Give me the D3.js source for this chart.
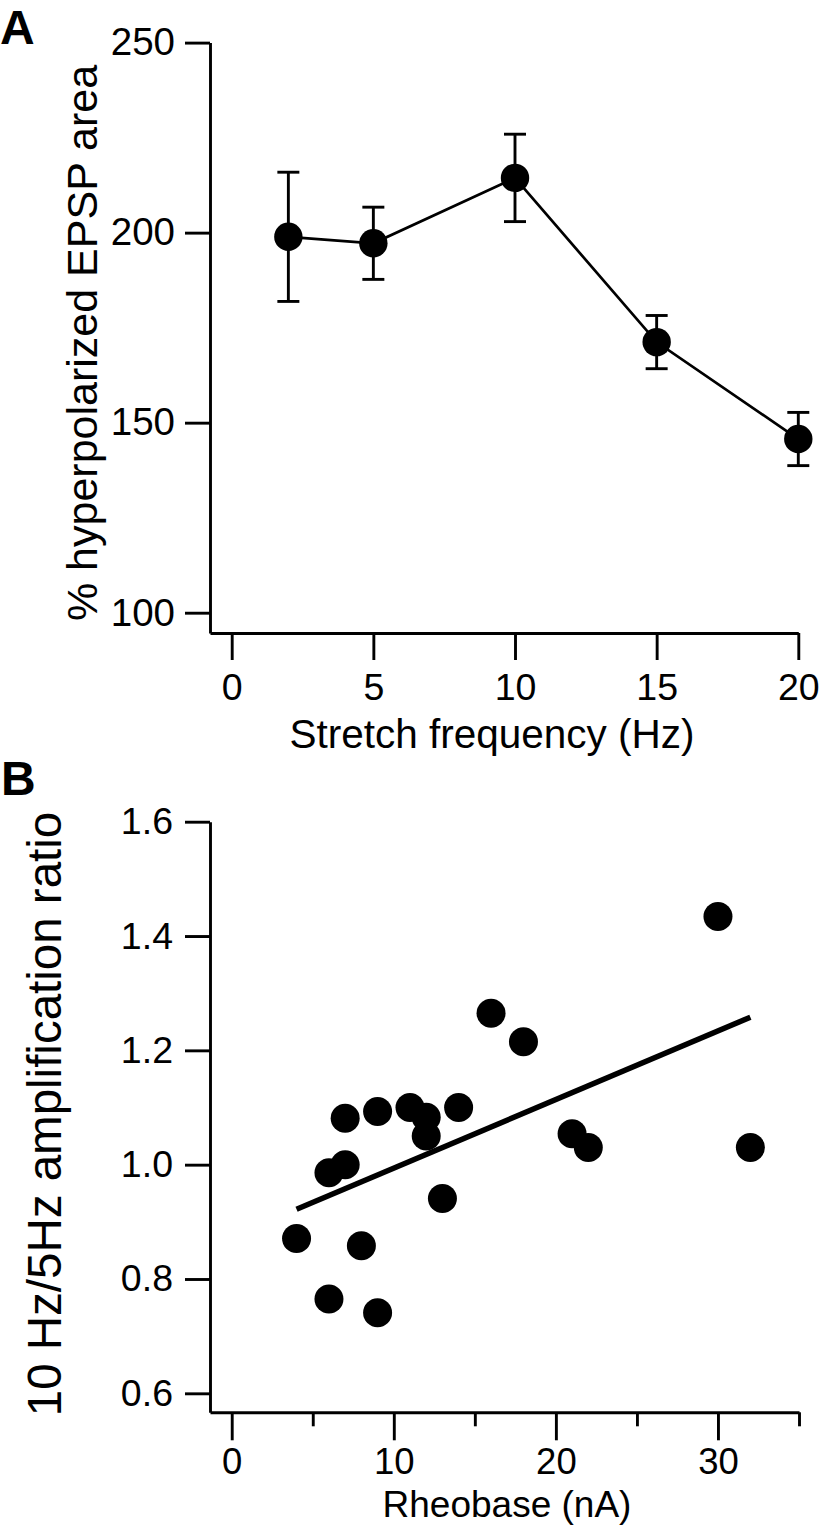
<!DOCTYPE html>
<html>
<head>
<meta charset="utf-8">
<script src="https://cdn.jsdelivr.net/npm/d3@7"></script>
<style>
  html, body { margin: 0; padding: 0; background: #fff; }
  svg { display: block; }
  text { font-family: "Liberation Sans", Arial, Helvetica, sans-serif; fill: #000; }
</style>
</head>
<body>
<svg id="chart" width="819" height="1525"></svg>
<script>
// ---------- Panel A data ----------
const freqHz = [2, 5, 10, 15, 20];
const epspArea = [198.9, 197.2, 214.4, 171.2, 145.7];
const epspErr = [17, 9.5, 11.5, 7, 7];
const aXTicks = [0, 5, 10, 15, 20];
const aYTicks = [100, 150, 200, 250];

// ---------- Panel B data ----------
const rheobase = [4, 6, 6, 7, 7, 8, 9, 9, 11, 12, 12, 13, 14, 16, 18, 21, 22, 30, 32];
const ampRatio = [0.871, 0.986, 0.765, 1.0, 1.081, 0.858, 1.093, 0.741, 1.100, 1.083, 1.050, 0.941, 1.100, 1.265, 1.215, 1.054, 1.030, 1.434, 1.030];
const fitX = [4, 32];
const fitY = [0.922, 1.258];
const bXMajor = [0, 10, 20, 30];
const bXMinor = [5, 15, 25, 35];
const bYTicks = [0.6, 0.8, 1.0, 1.2, 1.4, 1.6];

const svg = d3.select("#chart");
const SW = 2.9;

function styleAxis(g, fs) {
  g.selectAll("path.domain").attr("stroke", "#000").attr("stroke-width", SW);
  g.selectAll(".tick line").attr("stroke", "#000").attr("stroke-width", SW);
  g.selectAll(".tick text").attr("font-size", fs).attr("fill", "#000")
    .attr("font-family", '"Liberation Sans", Arial, sans-serif');
}

// ================= Panel A =================
const xA = d3.scaleLinear().domain([-0.766, 20]).range([210, 798.3]);
const yA = d3.scaleLinear().domain([94.66, 250]).range([633, 42.6]);

const gA = svg.append("g");
gA.append("g").attr("transform", "translate(0,633)")
  .call(d3.axisBottom(xA).tickValues(aXTicks).tickSize(27).tickSizeOuter(0).tickPadding(13))
  .call(g => styleAxis(g, 37.5));
gA.append("g").attr("transform", "translate(210,0)")
  .call(d3.axisLeft(yA).tickValues(aYTicks).tickSize(25).tickSizeOuter(0).tickPadding(10))
  .call(g => styleAxis(g, 38.5));

const aData = freqHz.map((f, i) => ({ x: f, y: epspArea[i], e: epspErr[i] }));
// error bars
const eb = gA.append("g").attr("stroke", "#000").attr("stroke-width", SW);
aData.forEach(d => {
  eb.append("line").attr("x1", xA(d.x)).attr("x2", xA(d.x))
    .attr("y1", yA(d.y - d.e)).attr("y2", yA(d.y + d.e));
  [d.y - d.e, d.y + d.e].forEach(v => {
    eb.append("line").attr("x1", xA(d.x) - 11).attr("x2", xA(d.x) + 11)
      .attr("y1", yA(v)).attr("y2", yA(v));
  });
});
gA.append("path").datum(aData)
  .attr("fill", "none").attr("stroke", "#000").attr("stroke-width", 2.7)
  .attr("d", d3.line().x(d => xA(d.x)).y(d => yA(d.y)));
gA.selectAll("circle.a").data(aData).enter().append("circle")
  .attr("cx", d => xA(d.x)).attr("cy", d => yA(d.y)).attr("r", 14.2).attr("fill", "#000");

gA.append("text").attr("x", 492).attr("y", 748).attr("text-anchor", "middle")
  .attr("font-size", 40.5).text("Stretch frequency (Hz)");
gA.append("text").attr("transform", "translate(97,343) rotate(-90)").attr("text-anchor", "middle")
  .attr("font-size", 43).text("% hyperpolarized EPSP area");
gA.append("text").attr("x", 0).attr("y", 44).attr("font-size", 48).attr("font-weight", "bold").text("A");

// ================= Panel B =================
const xB = d3.scaleLinear().domain([-1.34, 35]).range([210, 799]);
const yB = d3.scaleLinear().domain([0.5668, 1.6]).range([1412.3, 821.7]);

const gB = svg.append("g");
gB.append("g").attr("transform", "translate(0,1412.3)")
  .call(d3.axisBottom(xB).tickValues(bXMajor).tickSize(28).tickSizeOuter(0).tickPadding(8))
  .call(g => styleAxis(g, 36.5));
gB.append("g").attr("transform", "translate(0,1412.3)")
  .call(d3.axisBottom(xB).tickValues(bXMinor).tickSize(14).tickSizeOuter(0).tickFormat(""))
  .call(g => styleAxis(g, 36.5))
  .call(g => g.select("path.domain").remove());
gB.append("g").attr("transform", "translate(210,0)")
  .call(d3.axisLeft(yB).tickValues(bYTicks).tickSize(25).tickSizeOuter(0).tickPadding(12)
    .tickFormat(d3.format(".1f")))
  .call(g => styleAxis(g, 37.5));

gB.append("line")
  .attr("x1", xB(fitX[0])).attr("y1", yB(fitY[0]))
  .attr("x2", xB(fitX[1])).attr("y2", yB(fitY[1]))
  .attr("stroke", "#000").attr("stroke-width", 5.5);

const bData = rheobase.map((r, i) => ({ x: r, y: ampRatio[i] }));
gB.selectAll("circle.b").data(bData).enter().append("circle")
  .attr("cx", d => xB(d.x)).attr("cy", d => yB(d.y)).attr("r", 14.5).attr("fill", "#000");

gB.append("text").attr("x", 507).attr("y", 1517).attr("text-anchor", "middle")
  .attr("font-size", 37).text("Rheobase (nA)");
gB.append("text").attr("transform", "translate(61,1114) rotate(-90)").attr("text-anchor", "middle")
  .attr("font-size", 47.5).text("10 Hz/5Hz amplification ratio");
gB.append("text").attr("x", 1).attr("y", 795).attr("font-size", 48).attr("font-weight", "bold").text("B");
</script>
</body>
</html>
